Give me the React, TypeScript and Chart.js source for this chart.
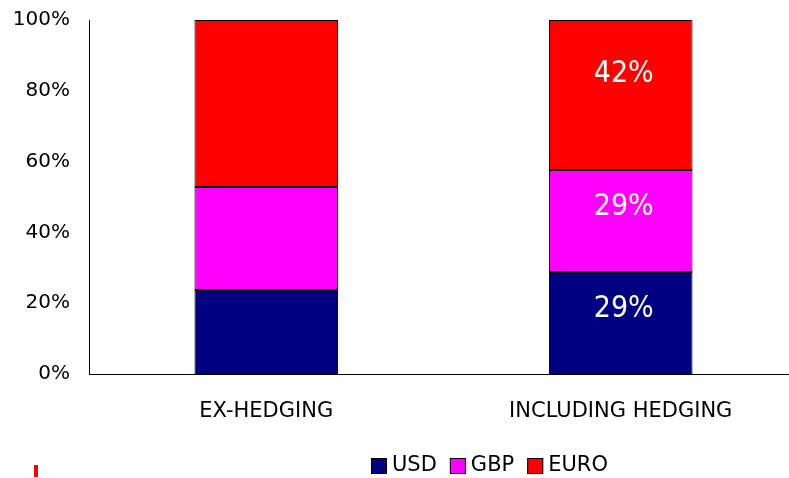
import React, { useEffect, useRef } from "react";
import { Chart, registerables } from "chart.js";

Chart.register(...registerables);

const categories = ["EX-HEDGING", "INCLUDING HEDGING"];
const usd = [23.7, 28.8];
const gbp = [29.1, 28.8];
const euro = [47.2, 42.4];
const yTicks = [0, 20, 40, 60, 80, 100];

const FONT = "'DejaVu Sans', sans-serif";
const LABEL_FONT = "'DejaVu Sans Condensed', 'DejaVu Sans', sans-serif";

// values are drawn only on the second bar, like the original,
// sitting a little above the middle of each segment
const valueLabels = {
  id: "valueLabels",
  afterDatasetsDraw(chart: Chart) {
    const ctx = chart.ctx;
    ctx.save();
    ctx.fillStyle = "#ffffff";
    ctx.font = `30px ${LABEL_FONT}`;
    ctx.textAlign = "center";
    ctx.textBaseline = "middle";
    chart.data.datasets.forEach((ds, i) => {
      const meta = chart.getDatasetMeta(i);
      const bar: any = meta.data[1];
      if (!bar) return;
      const v = ds.data[1] as number;
      const h = bar.base - bar.y;
      const y = bar.y + h / 2 - h * 0.14;
      ctx.fillText(`${Math.round(v)}%`, bar.x + 3, y);
    });
    ctx.restore();
  },
};

const bottomLegend = {
  id: "bottomLegend",
  afterDraw(chart: Chart) {
    const ctx = chart.ctx;
    ctx.save();
    ctx.font = `21px ${FONT}`;
    ctx.textBaseline = "middle";
    let x = 371;
    const y = 466;
    chart.data.datasets.forEach((ds) => {
      ctx.fillStyle = ds.backgroundColor as string;
      ctx.fillRect(x, y - 8, 16, 16);
      ctx.strokeStyle = "#000";
      ctx.lineWidth = 1;
      ctx.strokeRect(x + 0.5, y - 7.5, 15, 15);
      ctx.fillStyle = "#000";
      ctx.fillText(ds.label as string, x + 21, y);
      x += 21 + ctx.measureText(ds.label as string).width + 13;
    });
    ctx.fillStyle = "#ff0000";
    ctx.fillRect(34, 465, 4, 12);
    ctx.restore();
  },
};

const App = () => {
  const chartRef = useRef<HTMLCanvasElement>(null);
  const chartInstance = useRef<Chart>();

  useEffect(() => {
    if (chartInstance.current) {
      chartInstance.current.destroy();
    }
    const c = chartRef.current?.getContext("2d");
    if (c) {
      chartInstance.current = new Chart(c, {
        type: "bar",
        data: {
          labels: categories,
          datasets: [
            { label: "USD", data: usd, backgroundColor: "#000080" },
            { label: "GBP", data: gbp, backgroundColor: "#ff00ff" },
            { label: "EURO", data: euro, backgroundColor: "#ff0000" },
          ].map((d) => ({
            ...d,
            borderColor: "#000000",
            borderWidth: 1,
            borderSkipped: false,
            barPercentage: 0.405,
            categoryPercentage: 1,
          })),
        },
        options: {
          animation: false,
          responsive: false,
          layout: { padding: { top: 20, left: 0, right: 0, bottom: 0 } },
          plugins: {
            legend: { display: false },
            tooltip: { enabled: false },
          },
          scales: {
            x: {
              stacked: true,
              grid: { display: false, drawTicks: false },
              border: { color: "#000", width: 1 },
              ticks: {
                color: "#000",
                font: { family: FONT, size: 21 },
                padding: 25,
              },
              afterFit: (s: any) => {
                s.height = 104;
              },
            },
            y: {
              stacked: true,
              min: 0,
              max: 100,
              afterBuildTicks: (s: any) => {
                s.ticks = yTicks.map((v) => ({ value: v }));
              },
              grid: { display: false, drawTicks: false },
              border: { color: "#000", width: 1 },
              ticks: {
                color: "#000",
                font: { family: FONT, size: 20 },
                padding: 19,
                callback: (v: any) => `${v}%`,
              },
              afterFit: (s: any) => {
                s.width = 89;
                s.paddingTop = 0;
                s.paddingBottom = 0;
              },
            },
          },
        },
        plugins: [valueLabels, bottomLegend],
      });
    }
    return () => {
      if (chartInstance.current) {
        chartInstance.current.destroy();
      }
    };
  }, []);

  return (
    <div
      style={{
        position: "fixed",
        left: 0,
        top: 0,
        width: 789,
        height: 478,
        overflow: "hidden",
        background: "#fff",
      }}
    >
      <canvas
        ref={chartRef}
        width={798}
        height={478}
        style={{ width: "798px", height: "478px", display: "block" }}
      />
    </div>
  );
};

export default App;
